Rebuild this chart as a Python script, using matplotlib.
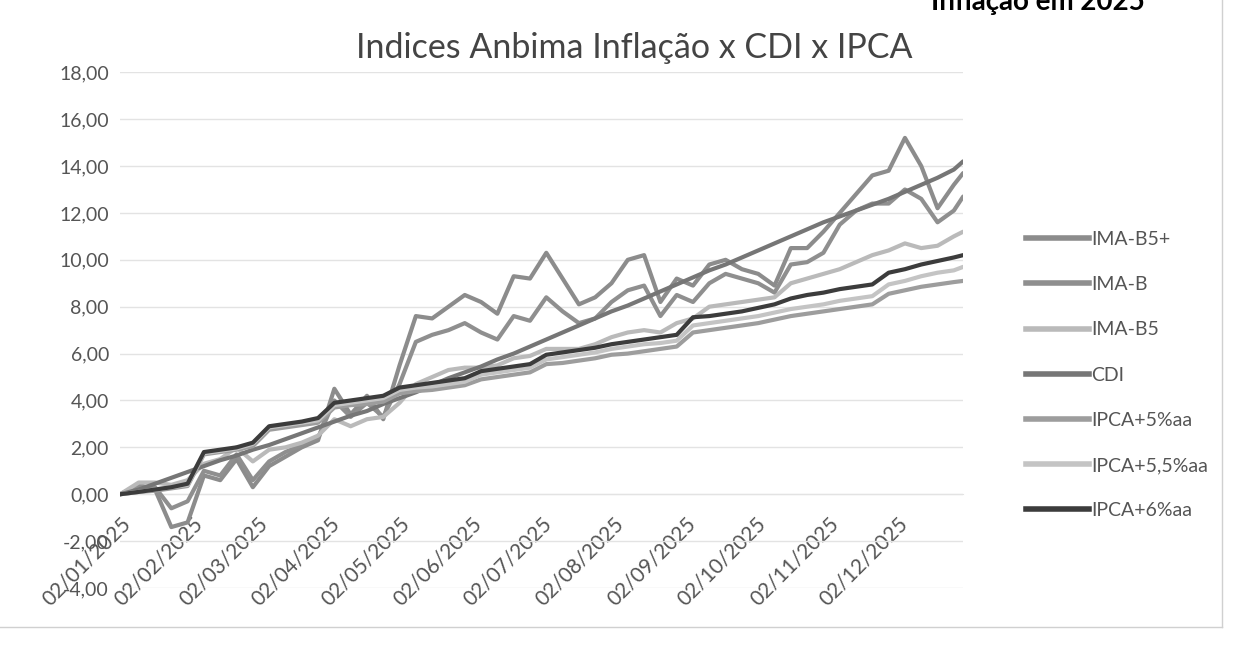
import matplotlib
matplotlib.use("Agg")
import matplotlib.pyplot as plt
import matplotlib.dates as mdates
import pandas as pd
from matplotlib.lines import Line2D

plt.rcParams['font.family'] = ['Lato', 'DejaVu Sans']

# ---- data (weekly readings, % accumulated in 2025) ----
dates = ([pd.Timestamp('2025-01-02')]
         + list(pd.date_range('2025-01-10', '2025-12-26', freq='W-FRI'))
         + [pd.Timestamp('2025-12-30')])

ima_b5p = [0, 0.4, 0.2, -1.4, -1.2, 0.8, 0.6, 1.5, 0.3, 1.2, 1.6, 2.0, 2.3,
           4.5, 3.4, 4.2, 3.2, 5.5, 7.6, 7.5, 8.0, 8.5, 8.2, 7.7, 9.3, 9.2,
           10.3, 9.2, 8.1, 8.4, 9.0, 10.0, 10.2, 8.2, 9.2, 8.9, 9.8, 10.0,
           9.6, 9.4, 8.9, 10.5, 10.5, 11.2, 12.0, 12.8, 13.6, 13.8, 15.2, 14.0,
           12.2, 13.2, 13.7]
ima_b = [0, 0.3, 0.3, -0.6, -0.3, 1.0, 0.8, 1.7, 0.6, 1.4, 1.8, 2.1, 2.4,
         4.0, 3.3, 3.9, 3.3, 4.7, 6.5, 6.8, 7.0, 7.3, 6.9, 6.6, 7.6, 7.4,
         8.4, 7.8, 7.3, 7.5, 8.2, 8.7, 8.9, 7.6, 8.5, 8.2, 9.0, 9.4,
         9.2, 9.0, 8.6, 9.8, 9.9, 10.3, 11.5, 12.1, 12.4, 12.4, 13.0, 12.6,
         11.6, 12.1, 12.7]
ima_b5 = [0, 0.5, 0.5, 0.4, 0.6, 1.3, 1.5, 2.0, 1.4, 1.9, 2.0, 2.2, 2.5,
          3.2, 2.9, 3.2, 3.3, 3.9, 4.7, 5.0, 5.3, 5.4, 5.4, 5.5, 5.8, 5.9,
          6.2, 6.2, 6.2, 6.4, 6.7, 6.9, 7.0, 6.9, 7.3, 7.5, 8.0, 8.1,
          8.2, 8.3, 8.4, 9.0, 9.2, 9.4, 9.6, 9.9, 10.2, 10.4, 10.7, 10.5,
          10.6, 11.0, 11.2]
cdi = [0, 0.2, 0.45, 0.7, 0.95, 1.2, 1.45, 1.65, 1.9, 2.1, 2.35, 2.6, 2.85,
       3.1, 3.35, 3.55, 3.85, 4.1, 4.35, 4.65, 4.95, 5.2, 5.45, 5.75, 6.0, 6.3,
       6.6, 6.9, 7.2, 7.5, 7.8, 8.05, 8.35, 8.65, 8.95, 9.25, 9.55, 9.8,
       10.1, 10.4, 10.7, 11.0, 11.3, 11.6, 11.85, 12.1, 12.35, 12.6, 12.9, 13.2,
       13.5, 13.85, 14.2]
ipca5 = [0, 0.1, 0.15, 0.25, 0.35, 1.7, 1.8, 1.9, 2.05, 2.75, 2.85, 2.95, 3.05,
         3.7, 3.8, 3.85, 3.95, 4.3, 4.4, 4.45, 4.55, 4.65, 4.9, 5.0, 5.1, 5.2,
         5.55, 5.6, 5.7, 5.8, 5.95, 6.0, 6.1, 6.2, 6.3, 6.9, 7.0, 7.1,
         7.2, 7.3, 7.45, 7.6, 7.7, 7.8, 7.9, 8.0, 8.1, 8.55, 8.7, 8.85,
         8.95, 9.05, 9.1]
ipca55 = [0, 0.1, 0.2, 0.3, 0.4, 1.75, 1.85, 1.95, 2.15, 2.85, 2.95, 3.05, 3.15,
          3.8, 3.9, 4.0, 4.1, 4.45, 4.55, 4.6, 4.7, 4.8, 5.1, 5.2, 5.3, 5.4,
          5.75, 5.85, 5.95, 6.05, 6.2, 6.3, 6.4, 6.45, 6.55, 7.2, 7.3, 7.4,
          7.5, 7.6, 7.75, 7.9, 8.0, 8.1, 8.25, 8.35, 8.45, 8.95, 9.1, 9.3,
          9.45, 9.55, 9.7]
ipca6 = [0, 0.1, 0.2, 0.3, 0.45, 1.8, 1.9, 2.0, 2.2, 2.9, 3.0, 3.1, 3.25,
         3.9, 4.0, 4.1, 4.2, 4.55, 4.65, 4.75, 4.85, 4.95, 5.25, 5.35, 5.45, 5.55,
         5.95, 6.05, 6.15, 6.25, 6.4, 6.5, 6.6, 6.7, 6.8, 7.55, 7.6, 7.7,
         7.8, 7.95, 8.1, 8.35, 8.5, 8.6, 8.75, 8.85, 8.95, 9.45, 9.6, 9.8,
         9.95, 10.1, 10.2]

series_names = ['IMA-B5+', 'IMA-B', 'IMA-B5', 'CDI', 'IPCA+5%aa', 'IPCA+5,5%aa', 'IPCA+6%aa']
series_values = [ima_b5p, ima_b, ima_b5, cdi, ipca5, ipca55, ipca6]
series_colors = ['#8c8c8c', '#8f8f8f', '#bababa', '#767676', '#9d9d9d', '#c4c4c4', '#3c3c3c']

tick_labels = ['02/01/2025', '02/02/2025', '02/03/2025', '02/04/2025',
               '02/05/2025', '02/06/2025', '02/07/2025', '02/08/2025',
               '02/09/2025', '02/10/2025', '02/11/2025', '02/12/2025']
y_ticks = [-4, -2, 0, 2, 4, 6, 8, 10, 12, 14, 16, 18]

# ---- figure ----
fig = plt.figure(figsize=(12.38, 6.57), dpi=100)
ax = fig.add_axes([0.097, 0.105, 0.681, 0.785])

xnum = mdates.date2num(pd.DatetimeIndex(dates).to_pydatetime())
draw_order = [4, 5, 2, 1, 0, 3, 6]
for i in draw_order:
    ax.plot(xnum, series_values[i], color=series_colors[i], lw=3.0,
            solid_capstyle='round', solid_joinstyle='round', zorder=3 + i * 0.1)

# spines first (set_position resets the ticks)
for s in ['top', 'right', 'left']:
    ax.spines[s].set_visible(False)
ax.spines['bottom'].set_position(('data', 0))
ax.spines['bottom'].set_color('#e3e3e3')

ax.tick_params(axis='both', length=0, labelsize=14, labelcolor='#555555')
ax.tick_params(axis='y', pad=8)
ax.tick_params(axis='x', pad=14, labelsize=15)

ax.set_ylim(-4, 18)
ax.set_yticks(y_ticks)
ax.set_yticklabels([f"{v:.2f}".replace('.', ',') for v in y_ticks])
ax.set_xlim(mdates.date2num(pd.Timestamp('2025-01-02').to_pydatetime()),
            mdates.date2num(pd.Timestamp('2025-12-30').to_pydatetime()))
tick_pos = mdates.date2num(pd.to_datetime(tick_labels, format='%d/%m/%Y').to_pydatetime())
ax.set_xticks(tick_pos)
ax.set_xticklabels(tick_labels, rotation=45, ha='right', va='top',
                   rotation_mode='anchor')

ax.grid(axis='y', color='#e3e3e3', lw=1)
ax.set_axisbelow(True)

ax.set_title('Indices Anbima Inflação x CDI x IPCA', fontsize=24.5, color='#444444',
             pad=10, x=0.61)

handles = [Line2D([0], [0], color=series_colors[i], lw=4) for i in range(7)]
fig.legend(handles, series_names, loc='upper left', bbox_to_anchor=(0.815, 0.675),
           frameon=False, fontsize=14, handlelength=3.2, handletextpad=0.15,
           labelspacing=1.45, labelcolor='#555555')

fig.text(0.925, 0.985, 'Inflação em 2025', ha='right', va='baseline',
         fontsize=20, fontweight='bold', color='black')

# chart-area border (right and bottom)
fig.add_artist(Line2D([0.987, 0.987], [0.045, 1.0], transform=fig.transFigure,
                      color='#d0d0d0', lw=1))
fig.add_artist(Line2D([0.0, 0.987], [0.045, 0.045], transform=fig.transFigure,
                      color='#d0d0d0', lw=1))

fig.savefig('out.png', dpi=100, facecolor='white')
